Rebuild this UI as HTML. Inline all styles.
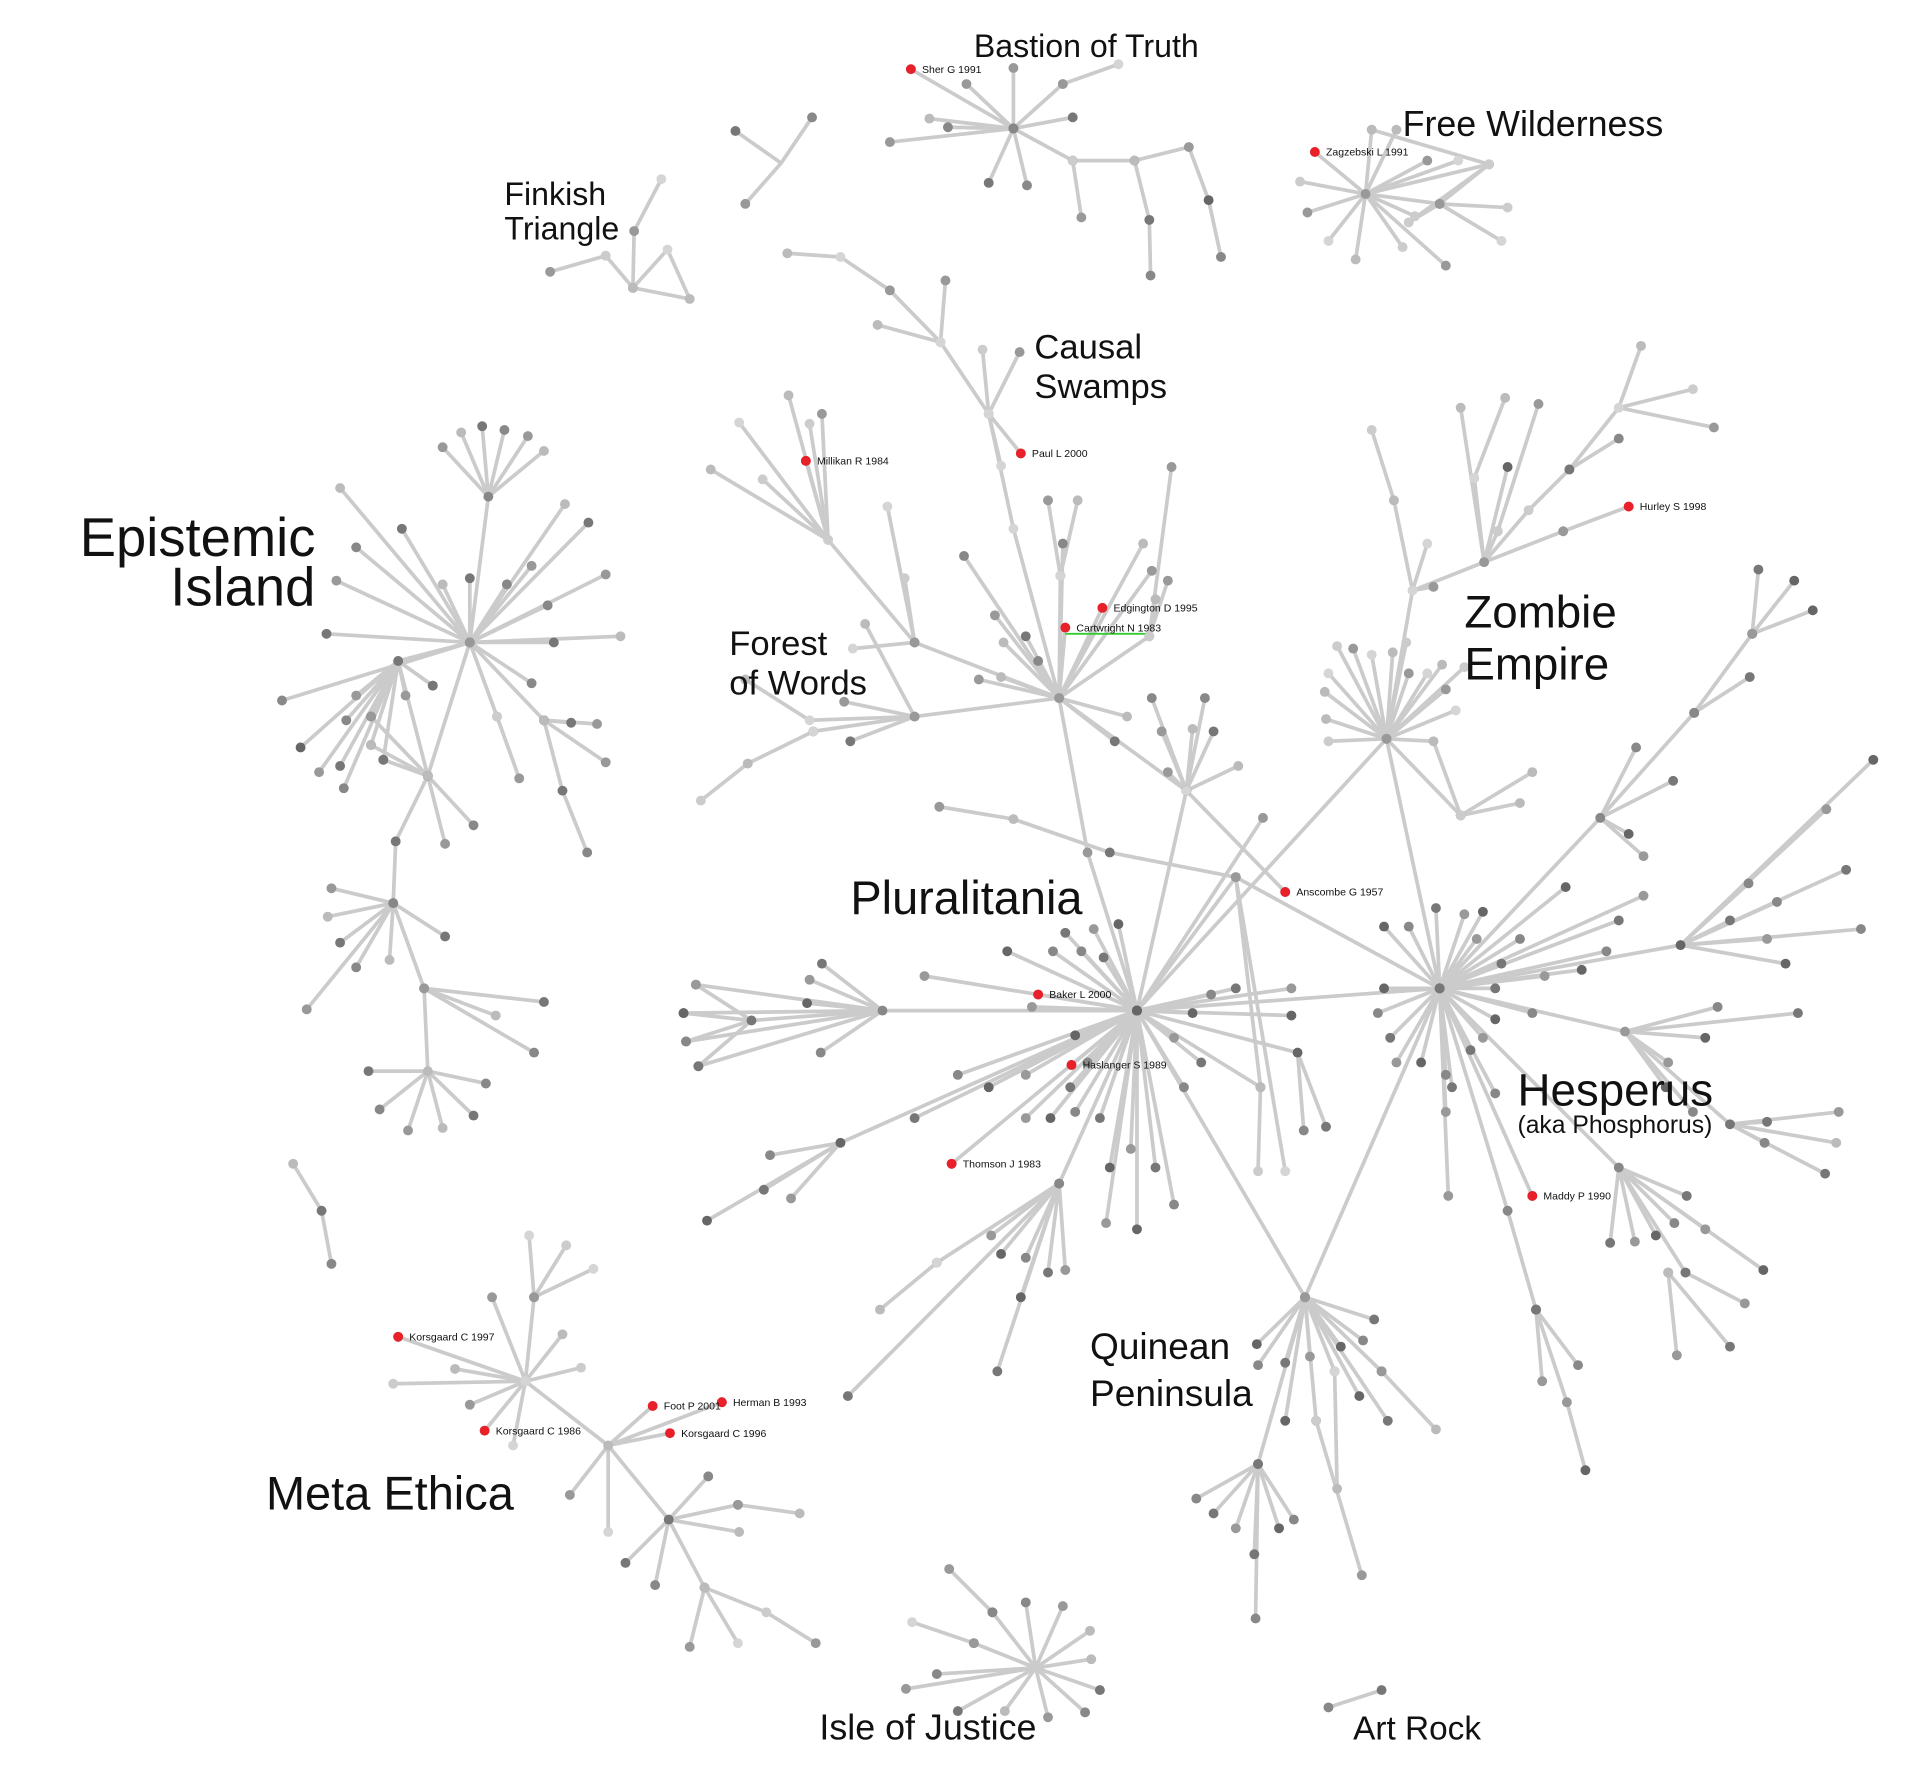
<!DOCTYPE html>
<html><head><meta charset="utf-8"><style>
html,body{margin:0;padding:0;background:#fff;}
svg{display:block;}
text{font-family:"Liberation Sans",Arial,sans-serif;fill:#111;}
</style></head><body>
<svg id="s" width="1928" height="1784" viewBox="0 0 1560 1444" xmlns="http://www.w3.org/2000/svg">
<g id="e" stroke="#cbcbcb" stroke-width="3" stroke-linecap="round" fill="none"></g>
<line x1="862" y1="513" x2="928" y2="513" stroke="#3c3" stroke-width="1.5"/>
<g id="n"></g>
<g id="t">
<text x="255" y="450" font-size="44" text-anchor="end">Epistemic</text>
<text x="255" y="490" font-size="44" text-anchor="end">Island</text>
<text x="688" y="740" font-size="38">Pluralitania</text>
<text x="1185" y="508" font-size="37">Zombie</text>
<text x="1185" y="550" font-size="37">Empire</text>
<text x="1228" y="895" font-size="37">Hesperus</text>
<text x="1228" y="917" font-size="20">(aka Phosphorus)</text>
<text x="215" y="1222" font-size="38">Meta Ethica</text>
<text x="882" y="1100" font-size="30">Quinean</text>
<text x="882" y="1138" font-size="30">Peninsula</text>
<text x="663" y="1408" font-size="29">Isle of Justice</text>
<text x="1095" y="1408" font-size="27">Art Rock</text>
<text x="590" y="530" font-size="28">Forest</text>
<text x="590" y="562" font-size="28">of  Words</text>
<text x="837" y="290" font-size="28">Causal</text>
<text x="837" y="322" font-size="28">Swamps</text>
<text x="788" y="46" font-size="26">Bastion of Truth</text>
<text x="1135" y="110" font-size="29">Free Wilderness</text>
<text x="408" y="166" font-size="26">Finkish</text>
<text x="408" y="194" font-size="26">Triangle</text>
</g>
<g id="r" font-size="8.5"></g>
</svg>
<script>
var E=document.getElementById('e'),N=document.getElementById('n'),R=document.getElementById('r');
var ns='http://www.w3.org/2000/svg';
var cols=['#666','#888','#999','#bbb','#d0d0d0'];
var k=0;
function ln(a,b){var l=document.createElementNS(ns,'line');l.setAttribute('x1',a[0]);l.setAttribute('y1',a[1]);l.setAttribute('x2',b[0]);l.setAttribute('y2',b[1]);E.appendChild(l);}
function nd(p,c,r){var e=document.createElementNS(ns,'circle');e.setAttribute('cx',p[0]);e.setAttribute('cy',p[1]);e.setAttribute('r',r||4);e.setAttribute('fill',c);N.appendChild(e);}
function star(h,ls,pal){ls.forEach(function(p){ln(h,p);nd(p,pal[(k++)%pal.length]);});}
function chain(ps,pal){for(var i=0;i<ps.length-1;i++)ln(ps[i],ps[i+1]);ps.forEach(function(p){nd(p,pal[(k++)%pal.length]);});}
var D=['#666','#888','#777','#999'],L=['#bbb','#ccc','#999','#d5d5d5'],M=['#888','#999','#bbb','#777'];
var P=[920,818],H=[1165,800],Z=[1122,598],Q=[1056,1050],C=[857,565],F=[960,640];
// hub links
chain([P,H],D);chain([P,Z],D);chain([P,Q],D);chain([H,Q],D);chain([H,Z],D);chain([P,[880,690],C],D);chain([P,F],D);chain([C,F],D);
chain([[760,653],[820,663],[898,690],[1000,710],H],M);chain([P,[1022,662]],D);
// Pluralitania
var S1=[714,818];chain([P,S1],D);
star(S1,[[608,826],[563,797],[553,820],[555,843],[565,863],[655,793],[653,812],[664,852],[665,780]],D);
star([608,826],[[563,797],[553,820],[555,843],[565,863]],D);
star(P,[[748,790],[815,770],[852,770],[862,755],[885,752],[905,748],[875,770],[893,775],[835,815],[870,838],[880,860],[866,880],[830,870],[800,880],[775,870],[740,905],[830,905],[850,905],[870,900],[890,905],[895,990],[920,995],[950,975],[935,945],[915,930],[898,945],[958,880],[972,860],[950,840],[965,820],[980,805],[1000,800],[1045,800],[1045,822],[1020,880],[1000,710]],D);
var S2=[680,925];chain([P,S2],D);star(S2,[[623,935],[618,963],[640,970],[572,988]],D);
var S3=[857,958];chain([P,S3],D);star(S3,[[802,1000],[810,1015],[830,1018],[848,1030],[862,1028],[826,1050],[758,1022],[807,1110]],D);
chain([[758,1022],[712,1060]],L);chain([S3,[686,1130]],D);
chain([P,[1050,852]],D);star([1050,852],[[1055,915],[1073,912]],D);chain([[1000,710],[1020,880],[1018,948]],L);chain([[1000,710],[1040,948]],L);
// Hesperus
star(H,[[1120,750],[1140,750],[1162,735],[1185,740],[1200,738],[1230,760],[1215,780],[1195,760],[1120,800],[1115,820],[1125,840],[1130,860],[1150,860],[1170,870],[1190,850],[1200,840],[1210,825],[1240,820],[1210,800],[1250,790],[1280,785],[1300,770],[1310,745],[1330,725],[1267,718],[1210,885],[1175,880],[1170,900]],D);
chain([H,[1295,662],[1371,577],[1418,513],[1452,470]],D);chain([[1418,513],[1423,461]],D);chain([[1418,513],[1467,494]],D);
star([1295,662],[[1324,605],[1354,632],[1330,693],[1318,675]],D);chain([[1371,577],[1416,548]],D);
var S4=[1360,765];chain([H,S4],D);star(S4,[[1415,715],[1400,745],[1430,760],[1445,780],[1506,752],[1494,704],[1478,655],[1516,615],[1438,730]],D);
var S5=[1315,835];chain([H,S5],D);star(S5,[[1380,840],[1390,815],[1455,820],[1350,860],[1348,880],[1370,900],[1400,910]],D);
star([1400,910],[[1430,908],[1428,925],[1488,900],[1486,925],[1477,950]],M);
var S6=[1310,945];chain([H,S6],D);star(S6,[[1303,1006],[1323,1005],[1340,1000],[1355,990],[1365,968],[1380,995],[1427,1028],[1364,1030]],D);
chain([[1364,1030],[1412,1055]],D);chain([[1350,1030],[1357,1097]],M);chain([[1350,1030],[1400,1090]],M);
chain([H,[1220,980],[1243,1060],[1248,1118]],D);chain([[1243,1060],[1277,1105]],D);chain([[1243,1060],[1268,1135],[1283,1190]],D);chain([H,[1172,968]],L);
// Zombie
star(Z,[[1075,545],[1072,560],[1082,523],[1095,525],[1110,530],[1127,528],[1138,520],[1140,545],[1155,545],[1167,538],[1185,540],[1170,558],[1178,575],[1073,582],[1075,600]],L);
chain([Z,[1182,660],[1240,625]],L);chain([[1182,660],[1230,650]],M);chain([Z,[1160,600],[1182,660]],L);
chain([Z,[1143,478],[1201,455],[1237,413],[1270,380],[1310,330],[1328,280]],L);
star([1310,330],[[1370,315],[1387,346]],L);chain([[1270,380],[1310,355]],M);chain([[1201,455],[1265,430],[1318,410]],L);
star([1201,455],[[1182,330],[1193,387],[1212,430]],L);chain([[1193,387],[1218,322]],L);chain([[1212,430],[1245,327]],L);chain([[1201,455],[1220,378]],D);
star([1143,478],[[1128,405],[1160,475],[1155,440]],L);chain([[1128,405],[1110,348]],L);
// Forest
chain([C,[820,428],[800,335],[761,277],[720,235],[680,208],[637,205]],L);chain([[761,277],[765,227]],L);chain([[761,277],[710,263]],L);
star([800,335],[[795,283],[825,285],[810,377]],L);
star(C,[[780,450],[805,498],[812,520],[830,515],[840,535],[792,550],[810,548],[858,466],[860,440],[932,462],[912,580],[902,600],[930,515]],M);
chain([[858,466],[848,405]],L);chain([[858,466],[872,405]],L);chain([[930,515],[948,378]],L);chain([[930,515],[935,485]],L);chain([[930,515],[945,470]],L);chain([C,[925,440]],L);
var S7=[740,580];chain([C,S7],L);star(S7,[[688,600],[658,592],[683,568],[700,505]],M);chain([[658,592],[605,618],[567,648]],L);chain([[740,580],[655,583],[603,550]],L);
var S8=[670,437];chain([C,[740,520],S8],L);star(S8,[[638,320],[655,343],[665,335],[598,342],[575,380],[617,388]],L);
chain([[740,520],[718,410]],L);chain([[740,520],[732,468]],L);chain([[740,520],[690,525]],L);
star(F,[[932,565],[940,592],[965,590],[982,592],[975,565],[945,625],[1002,620]],M);
// Epistemic
var EI=[380,520],E2=[322,535],E3=[346,628],E4=[318,731],E5=[346,867],E6=[343,800];
chain([EI,[395,402]],M);star([395,402],[[358,362],[373,350],[390,345],[408,348],[427,353],[440,365]],M);
star(EI,[[380,468],[410,473],[430,458],[457,408],[476,423],[443,490],[490,465],[502,515],[448,520],[430,553],[402,580],[358,473],[325,428],[288,443],[272,470],[275,395],[264,513],[228,567]],M);
chain([[402,580],[420,630]],L);chain([EI,[440,583],[490,617]],M);chain([[440,583],[462,585]],M);chain([[440,583],[483,586]],M);chain([[440,583],[455,640],[475,690]],M);
chain([EI,E2],M);star(E2,[[288,563],[300,580],[280,583],[275,620],[258,625],[243,605],[278,638],[300,603],[328,563],[350,555],[310,615],[350,555]],D);
chain([E2,E3],M);chain([EI,E3],M);chain([[310,615],[346,628],[300,580]],M);chain([[300,603],E3],M);
star(E3,[[383,668],[360,683]],M);chain([E3,[320,681],E4],M);
star(E4,[[268,719],[265,742],[275,763],[288,783],[248,817],[315,777],[360,758]],M);
chain([E4,E6],M);star(E6,[[401,822],[440,811],[432,852]],M);chain([E6,E5],M);
star(E5,[[298,867],[307,898],[330,915],[358,913],[383,903],[393,877]],M);
// Meta
var M1=[425,1118],M2=[492,1170],M3=[541,1230];
chain([M1,[432,1050],[428,1000]],L);chain([[432,1050],[458,1008]],L);chain([[432,1050],[480,1027]],L);
star(M1,[[368,1108],[318,1120],[380,1137],[415,1170],[455,1080],[470,1107],[398,1050]],L);
chain([M1,M2,M3],L);star(M2,[[461,1210],[492,1240]],L);
star(M3,[[573,1195],[597,1218],[598,1240],[506,1265],[530,1283]],M);chain([[597,1218],[647,1225]],M);
chain([M3,[570,1285],[558,1333]],M);chain([[570,1285],[597,1330]],L);chain([[570,1285],[620,1305],[660,1330]],L);
// Isle
star([838,1350],[[803,1305],[830,1297],[860,1300],[882,1320],[788,1330],[758,1355],[733,1367],[883,1343],[890,1368],[878,1386],[848,1390],[813,1385],[775,1385]],M);
chain([[803,1305],[768,1270]],M);chain([[788,1330],[738,1313]],L);
// Quinean
star(Q,[[1017,1088],[1018,1105],[1040,1103],[1060,1098],[1085,1090],[1103,1085],[1112,1068],[1080,1110],[1100,1130],[1118,1110],[1123,1150],[1065,1150],[1040,1150]],D);
chain([[1118,1110],[1162,1157]],M);chain([[1080,1110],[1082,1205]],L);chain([[1065,1150],[1102,1275]],L);
var S9=[1018,1185];chain([Q,S9],D);star(S9,[[968,1213],[982,1225],[1000,1237],[1035,1237],[1047,1230],[1015,1258]],D);chain([[1018,1185],[1016,1310]],M);
// Bastion
var B=[820,104];star(B,[[820,55],[860,68],[868,95],[767,103],[720,115],[752,96],[800,148],[831,150],[782,68]],M);chain([[860,68],[905,52]],L);
chain([B,[868,130],[918,130],[962,119],[978,162],[988,208]],D);chain([[918,130],[930,178],[931,223]],M);chain([[868,130],[875,176]],L);
// Finkish
star([632,132],[[595,106],[657,95],[603,165]],M);
chain([[512,233],[540,202],[558,242],[512,233],[513,187],[535,145]],L);chain([[512,233],[490,207],[445,220]],L);
// Free Wilderness
var FW=[1105,157];star(FW,[[1110,105],[1130,105],[1052,147],[1058,172],[1075,195],[1097,210],[1135,200],[1170,215],[1165,165],[1205,133],[1145,175],[1155,130],[1180,130]],L);
chain([[1165,165],[1220,168]],L);chain([[1165,165],[1215,195]],L);chain([[1205,133],[1140,180],[1165,165],[1205,133]],L);chain([[1110,105],[1205,133]],L);
// misc
chain([[237,942],[260,980],[268,1023]],M);chain([[1075,1382],[1118,1368]],D);
// red nodes
var red=[[737,56,'Sher G 1991'],[1064,123,'Zagzebski L 1991'],[652,373,'Millikan R 1984'],[826,367,'Paul L 2000'],[1318,410,'Hurley S 1998'],[892,492,'Edgington D 1995'],[862,508,'Cartwright N 1983'],[1040,722,'Anscombe G 1957'],[840,805,'Baker L 2000'],[867,862,'Haslanger S 1989'],[770,942,'Thomson J 1983'],[1240,968,'Maddy P 1990'],[322,1082,'Korsgaard C 1997'],[392,1158,'Korsgaard C 1986'],[528,1138,'Foot P 2001'],[584,1135,'Herman B 1993'],[542,1160,'Korsgaard C 1996']];
chain([F,[1040,722]],L);chain([[670,437],[652,373]],L);chain([[800,335],[826,367]],L);chain([M1,[322,1082]],L);chain([M1,[392,1158]],L);star(M2,[[528,1138],[584,1135],[542,1160]],L);
chain([P,[840,805]],D);chain([P,[867,862]],D);chain([P,[770,942]],D);chain([H,[1240,968]],D);chain([C,[892,492]],L);chain([C,[862,508]],L);chain([B,[737,56]],M);chain([FW,[1064,123]],L);
red.forEach(function(r){nd(r,'#e8202a',4);var t=document.createElementNS(ns,'text');t.setAttribute('x',r[0]+9);t.setAttribute('y',r[1]+3);t.textContent=r[2];R.appendChild(t);});
</script>
</body></html>
